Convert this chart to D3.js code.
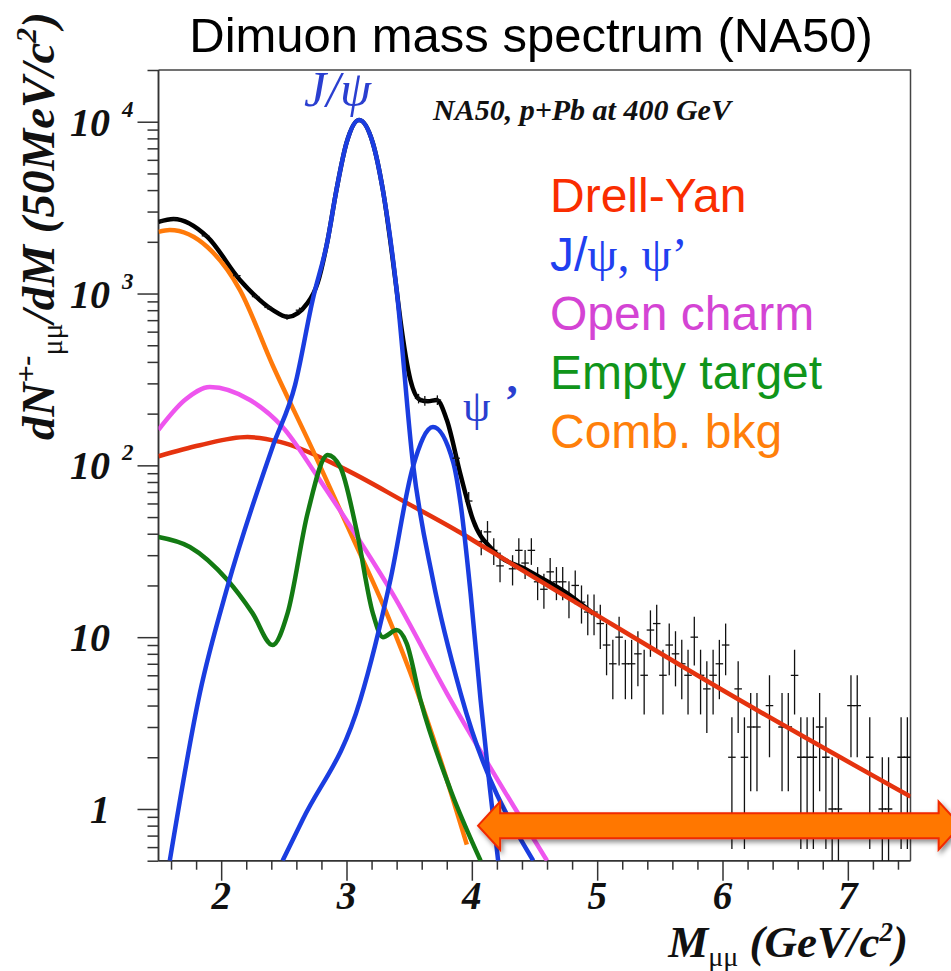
<!DOCTYPE html>
<html>
<head>
<meta charset="utf-8">
<script src="https://d3js.org/d3.v7.min.js"></script>
<title>Dimuon mass spectrum (NA50)</title>
<style>
  html, body { margin: 0; padding: 0; background: #fff; overflow: hidden; }
  #chart { width: 951px; height: 971px; }
</style>
</head>
<body>
<div id="chart"></div>
<script>
// curves: mass in GeV/c2, value in counts / 50 MeV
var totalMass = [1.5, 1.62, 1.89, 2.15, 2.41, 2.53, 2.69, 2.77, 2.85, 2.92, 3.0, 3.1, 3.21, 3.29, 3.40, 3.43, 3.51, 3.59, 3.65, 3.72, 3.80, 3.91, 4.01, 4.17, 4.44, 4.78, 4.97];
var totalVal  = [2612, 2717, 2138, 1200, 803, 731, 882, 1153, 2050, 4010, 7520, 10230, 7520, 4010, 1050, 700, 314, 240, 236, 240, 184, 88, 48, 32, 24.6, 17.6, 13.7];

var dyMass = [1.5, 1.83, 2.21, 2.47, 2.95, 3.48, 3.91, 4.07, 4.97, 6.04, 7.5];
var dyVal  = [113, 131, 146, 137, 98, 60.5, 40.5, 34.4, 13.8, 4.73, 1.18];

var jpsiMass = [1.59, 1.83, 2.05, 2.41, 2.59, 2.73, 2.85, 2.92, 3.0, 3.1, 3.21, 3.29, 3.40, 3.53, 3.69, 3.91, 4.49];
var jpsiVal  = [0.5, 4.73, 19.6, 128, 294, 918, 2050, 4010, 7520, 10230, 7520, 4010, 1050, 103, 21.5, 4.73, 0.5];

var psipMass = [2.49, 2.65, 3.11, 3.35, 3.53, 3.69, 3.85, 3.91, 3.99, 4.07, 4.14, 4.21];
var psipVal  = [0.5, 0.865, 4.31, 21.5, 98, 167, 105, 60, 18, 4.3, 1.4, 0.5];

var charmMass = [1.5, 1.71, 1.91, 2.23, 2.49, 2.77, 3.05, 3.37, 3.80, 4.60];
var charmVal  = [161, 240, 286, 240, 167, 85.7, 42, 17.8, 4.73, 0.5];

var emptyMass = [1.5, 1.75, 2.05, 2.25, 2.41, 2.53, 2.69, 2.85, 2.95, 3.08, 3.21, 3.29, 3.40, 3.48, 3.59, 3.83, 4.07];
var emptyVal  = [38.3, 33.5, 21.5, 13.8, 9.0, 13.8, 52.8, 115, 98, 42, 13.8, 10.0, 11.0, 9.2, 4.31, 1.29, 0.5];

var combMass = [1.5, 1.59, 1.89, 2.15, 2.41, 2.73, 3.05, 3.32, 3.56, 3.75, 3.96];
var combVal  = [2286, 2345, 1866, 1048, 384, 123, 37.8, 13.8, 4.93, 1.93, 0.62];

// measured points (bin centre, counts)
var lowMass  = [1.525, 1.625, 1.875, 2.125, 2.275, 2.375, 2.525, 2.625, 3.575, 3.625, 3.725, 3.875, 3.975];
var lowCount = [2640, 2715, 2170, 1270, 960, 830, 731, 800, 245, 238, 240, 110, 62];

var binMass = [4.075, 4.125, 4.175, 4.225, 4.325, 4.375, 4.425, 4.475, 4.525, 4.575, 4.625, 4.675, 4.725, 4.775, 4.825, 4.875, 4.925, 4.975,
               5.025, 5.075, 5.125, 5.175, 5.225, 5.275, 5.325, 5.375, 5.425, 5.475, 5.525, 5.575, 5.625, 5.675, 5.725, 5.775, 5.825, 5.875, 5.925, 5.975,
               6.025, 6.075, 6.125, 6.175, 6.225, 6.275, 6.375, 6.475, 6.525, 6.575, 6.625, 6.675, 6.725, 6.775, 6.825, 6.875, 6.925,
               7.025, 7.075, 7.175, 7.275, 7.325, 7.425, 7.475];
var binCount = [36, 41, 32, 26, 25, 32, 27, 32, 21, 19, 24, 21, 21, 17, 20, 16, 14, 14,
                12, 9, 7, 10, 7, 7, 8, 6, 11, 12, 6, 9, 8, 7, 6, 10, 6, 5, 6, 7,
                9, 2, 5, 2, 3, 3, 4, 3, 3, 6, 2, 2, 2, 3, 2, 1, 1,
                4, 4, 2, 1, 1, 2, 2];

var xMajor = [2, 3, 4, 5, 6, 7];
var yMajor = [1, 10, 100, 1000, 10000];
var yExp   = ["", "", "2", "3", "4"];

var legendNames  = ["Drell-Yan", "J/\u03c8, \u03c8\u2019", "Open charm", "Empty target", "Comb. bkg"];
var legendColors = ["#fa2d00", "#1f40f0", "#d444d4", "#10951a", "#ff7f0a"];

// arrow drawn in data coordinates
var arrowMass = [4.05, 7.9];
var arrowVal = 0.8;

var width = 951, height = 971;
var svg = d3.select("#chart").append("svg")
    .attr("width", width).attr("height", height);

var x = d3.scaleLinear().domain([1.5, 7.5]).range([158.5, 910.5]);
var y = d3.scaleLog().domain([0.5, 2e4]).range([860.7, 70]);

var serif = "'Liberation Serif', 'Times New Roman', serif";
var sans = "'Liberation Sans', Arial, Helvetica, sans-serif";

svg.append("defs").append("clipPath").attr("id", "plot")
    .append("rect")
    .attr("x", x.range()[0]).attr("y", y.range()[1])
    .attr("width", x.range()[1] - x.range()[0])
    .attr("height", y.range()[0] - y.range()[1]);

var shadow = svg.select("defs").append("filter").attr("id", "shadow")
    .attr("x", "-10%").attr("y", "-50%").attr("width", "130%").attr("height", "200%");
shadow.append("feDropShadow").attr("dx", 2).attr("dy", 3).attr("stdDeviation", 2.5)
    .attr("flood-color", "#000").attr("flood-opacity", 0.45);

// title
svg.append("text")
    .attr("x", 531).attr("y", 52)
    .attr("text-anchor", "middle")
    .style("font-family", sans).style("font-size", "49px")
    .attr("fill", "#000")
    .text("Dimuon mass spectrum (NA50)");

// frame
var axisColor = "#333";
svg.append("path")
    .attr("d", "M" + x.range()[0] + "," + y.range()[1] + "H" + x.range()[1] + "V" + y.range()[0])
    .attr("fill", "none").attr("stroke", "#444").attr("stroke-width", 1.5);

// x axis
var xMinor = x.ticks(30).filter(function (d) { return xMajor.indexOf(Math.round(d * 10) / 10) < 0; });
var xAx = svg.append("g").attr("transform", "translate(0," + y.range()[0] + ")");
xAx.append("g").call(d3.axisBottom(x).tickValues(xMinor).tickSize(9).tickFormat(""));
xAx.append("g").call(d3.axisBottom(x).tickValues(xMajor).tickSize(20).tickFormat(""));
xAx.selectAll("path, line").attr("stroke", axisColor).attr("stroke-width", 1.5);
xAx.selectAll(".domain").attr("d", "M" + x.range()[0] + ",0H" + x.range()[1]);

xAx.selectAll("text.lab")
    .data(xMajor).enter().append("text")
    .attr("class", "lab")
    .attr("x", function (d) { return x(d); })
    .attr("y", 48)
    .attr("text-anchor", "middle")
    .style("font-family", serif).style("font-weight", "bold").style("font-style", "italic")
    .style("font-size", "39px").attr("fill", "#111")
    .text(function (d) { return d; });

// y axis
var yMinor = y.ticks().filter(function (d) { return yMajor.indexOf(d) < 0; });
var yAx = svg.append("g").attr("transform", "translate(" + x.range()[0] + ",0)");
yAx.append("g").call(d3.axisLeft(y).tickValues(yMinor).tickSize(11).tickFormat(""));
yAx.append("g").call(d3.axisLeft(y).tickValues(yMajor).tickSize(21).tickFormat(""));
yAx.selectAll("path, line").attr("stroke", axisColor).attr("stroke-width", 1.5);
yAx.selectAll(".domain").attr("d", "M0," + y.range()[0] + "V" + y.range()[1]);

var yLab = svg.append("g").selectAll("g")
    .data(yMajor).enter().append("g");
yLab.append("text")
    .attr("x", 110)
    .attr("y", function (d) { return y(d) + 14; })
    .attr("text-anchor", "end")
    .style("font-family", serif).style("font-weight", "bold").style("font-style", "italic")
    .style("font-size", "40px").attr("fill", "#111")
    .text(function (d) { return d >= 10 ? "10" : "1"; });
yLab.append("text")
    .attr("x", 122)
    .attr("y", function (d) { return y(d) - 5; })
    .style("font-family", serif).style("font-weight", "bold").style("font-style", "italic")
    .style("font-size", "23px").attr("fill", "#111")
    .text(function (d, i) { return yExp[i]; });

// axis titles
var xt = svg.append("text")
    .attr("x", 908).attr("y", 957)
    .attr("text-anchor", "end")
    .style("font-family", serif).style("font-weight", "bold").style("font-style", "italic")
    .style("font-size", "45px").attr("fill", "#111");
xt.append("tspan").text("M");
xt.append("tspan").attr("dy", 9).style("font-size", "28px").style("font-weight", "normal").style("font-style", "normal").text("\u03bc\u03bc");
xt.append("tspan").attr("dy", -9).text(" (GeV/c");
xt.append("tspan").attr("dy", -16).style("font-size", "27px").text("2");
xt.append("tspan").attr("dy", 16).text(")");

var yt = svg.append("text")
    .attr("transform", "translate(54,226) rotate(-90)")
    .attr("text-anchor", "middle")
    .style("font-family", serif).style("font-weight", "bold").style("font-style", "italic")
    .style("font-size", "47px").attr("fill", "#111");
yt.append("tspan").text("dN");
yt.append("tspan").attr("dy", -18).style("font-size", "30px").text("+-");
yt.append("tspan").attr("dy", 26).style("font-size", "30px").style("font-weight", "normal").style("font-style", "normal").text("\u03bc\u03bc");
yt.append("tspan").attr("dy", -8).text("/dM (50MeV/c");
yt.append("tspan").attr("dy", -18).style("font-size", "30px").text("2");
yt.append("tspan").attr("dy", 18).text(")");

// curves
var line = d3.line()
    .x(function (d) { return x(d[0]); })
    .y(function (d) { return y(d[1]); })
    .curve(d3.curveMonotoneX);

function pairs(m, v) { return m.map(function (d, i) { return [d, v[i]]; }); }

var curves = [
    { m: totalMass, v: totalVal, c: "#000000" },
    { m: dyMass, v: dyVal, c: "#e5330f" },
    { m: combMass, v: combVal, c: "#ff7a0a" },
    { m: charmMass, v: charmVal, c: "#ee55ee" },
    { m: emptyMass, v: emptyVal, c: "#137a13" },
    { m: jpsiMass, v: jpsiVal, c: "#1a3de0" },
    { m: psipMass, v: psipVal, c: "#1a3de0" }
];

var plot = svg.append("g").attr("clip-path", "url(#plot)");

// data points with poisson errors
function drawPoints(g, data) {
    var pt = g.selectAll("g").data(data).enter().append("g");
    pt.append("line")
        .attr("x1", function (d) { return x(d[0]); }).attr("x2", function (d) { return x(d[0]); })
        .attr("y1", function (d) { return y(d[1] + Math.sqrt(d[1])); })
        .attr("y2", function (d) { return y(Math.max(d[1] - Math.sqrt(d[1]), 0.3)); });
    pt.append("line")
        .attr("x1", function (d) { return x(d[0] - 0.03); }).attr("x2", function (d) { return x(d[0] + 0.03); })
        .attr("y1", function (d) { return y(d[1]); }).attr("y2", function (d) { return y(d[1]); });
}
drawPoints(plot.append("g").attr("stroke", "#111").attr("stroke-width", 1.3), pairs(binMass, binCount));

plot.selectAll("path.curve")
    .data(curves).enter().append("path")
    .attr("class", "curve")
    .attr("d", function (d) { return line(pairs(d.m, d.v)); })
    .attr("fill", "none")
    .attr("stroke", function (d) { return d.c; })
    .attr("stroke-width", 4.5)
    .attr("stroke-linejoin", "round");

drawPoints(plot.append("g").attr("stroke", "#111").attr("stroke-width", 1.3), pairs(lowMass, lowCount));

// labels inside the plot
svg.append("text")
    .attr("x", 433).attr("y", 120)
    .style("font-family", serif).style("font-weight", "bold").style("font-style", "italic")
    .style("font-size", "30px").attr("fill", "#111")
    .text("NA50, p+Pb at 400 GeV");

svg.append("text")
    .attr("x", 304).attr("y", 106)
    .style("font-family", serif).style("font-style", "italic")
    .style("font-size", "50px").attr("fill", "#2a3fd0")
    .text("J/\u03c8");

var pl = svg.append("text")
    .attr("x", 463).attr("y", 421)
    .style("font-family", serif)
    .style("font-size", "44px").attr("fill", "#2a3fd0");
pl.append("tspan").text("\u03c8");
pl.append("tspan").attr("dx", 14).attr("dy", -6).style("font-weight", "bold").text("\u2019");

// legend
svg.append("g").selectAll("text")
    .data(legendNames).enter().append("text")
    .attr("x", 550)
    .attr("y", function (d, i) { return 212 + i * 59; })
    .style("font-family", sans).style("font-size", "48px")
    .attr("fill", function (d, i) { return legendColors[i]; })
    .each(function (d, i) {
        var t = d3.select(this);
        if (i === 1) {
            t.append("tspan").text("J/");
            t.append("tspan").style("font-family", serif).text("\u03c8, \u03c8\u2019");
        } else {
            t.text(d);
        }
    });

// double arrow
var ax0 = x(arrowMass[0]), ax1 = x(arrowMass[1]), ay = y(arrowVal);
var head = 22, hh = 24, sh = 12.5;
svg.append("path")
    .attr("d", "M" + ax0 + "," + ay +
        "L" + (ax0 + head) + "," + (ay - hh) + "V" + (ay - sh) +
        "H" + (ax1 - head) + "V" + (ay - hh) +
        "L" + ax1 + "," + ay +
        "L" + (ax1 - head) + "," + (ay + hh) + "V" + (ay + sh) +
        "H" + (ax0 + head) + "V" + (ay + hh) + "Z")
    .attr("fill", "#ff7700")
    .attr("stroke", "#f02a00").attr("stroke-width", 2)
    .attr("filter", "url(#shadow)");
</script>
</body>
</html>
